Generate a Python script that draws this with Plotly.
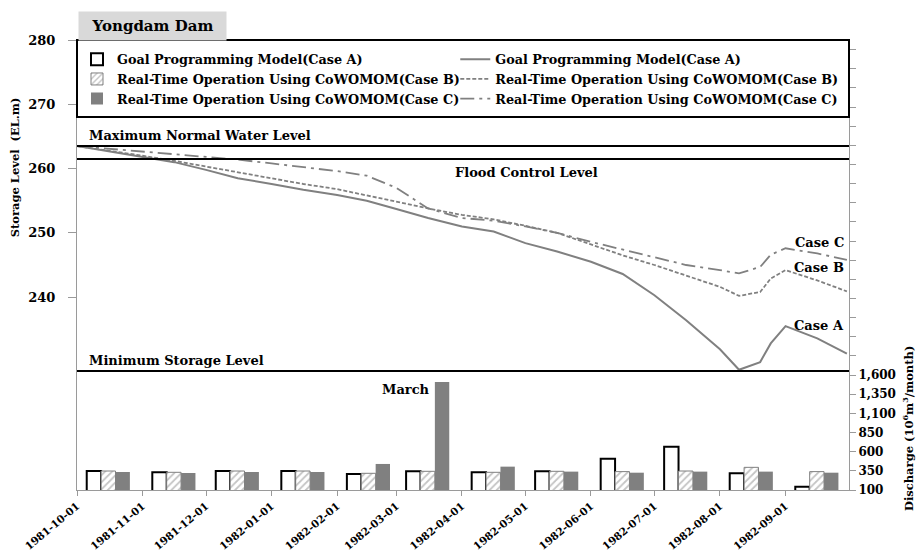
import plotly.graph_objects as go

# Monthly releases (10^6 m^3/month)
months = ["1981-10-01", "1981-11-01", "1981-12-01", "1982-01-01", "1982-02-01", "1982-03-01",
          "1982-04-01", "1982-05-01", "1982-06-01", "1982-07-01", "1982-08-01", "1982-09-01"]
release_a = [348, 331, 348, 348, 309, 344, 331, 344, 508, 665, 318, 143]
release_b = [348, 331, 348, 348, 318, 344, 331, 344, 340, 348, 396, 340]
release_c = [335, 322, 335, 335, 440, 1510, 405, 340, 326, 340, 340, 326]

# Storage level (EL.m)
level_dates = ["1981-10-01", "1981-10-16", "1981-11-01", "1981-11-16", "1981-12-01", "1981-12-16",
               "1982-01-01", "1982-01-16", "1982-02-01", "1982-02-15", "1982-03-01", "1982-03-08",
               "1982-03-16", "1982-04-01", "1982-04-16", "1982-05-01", "1982-05-16", "1982-06-01",
               "1982-06-16", "1982-07-01", "1982-07-16", "1982-08-01", "1982-08-10", "1982-08-20",
               "1982-08-25", "1982-09-01", "1982-09-16", "1982-09-30"]
level_a = [263.5, 262.7, 261.9, 261.0, 259.8, 258.5, 257.6, 256.7, 255.9, 255.0, 253.7, 253.0,
           252.3, 251.0, 250.2, 248.4, 247.1, 245.5, 243.6, 240.3, 236.4, 231.9, 228.7, 229.9,
           232.8, 235.5, 233.6, 231.2]
level_b = [263.5, 262.8, 262.0, 261.2, 260.3, 259.4, 258.4, 257.6, 256.8, 255.8, 254.8, 254.3,
           253.8, 252.8, 252.1, 251.1, 250.0, 248.2, 246.5, 245.0, 243.4, 241.6, 240.2, 240.8,
           242.9, 244.2, 242.6, 240.9]
level_c = [263.5, 263.1, 262.7, 262.2, 261.8, 261.4, 260.8, 260.2, 259.6, 258.9, 257.0, 255.5,
           253.8, 252.3, 251.9, 251.0, 250.0, 248.6, 247.4, 246.1, 245.0, 244.2, 243.7, 244.7,
           246.6, 247.6, 246.8, 245.8]

max_normal_level = 263.5
flood_control_level = 261.5
min_storage_level = 228.5

discharge_ticks = [100, 350, 600, 850, 1100, 1350, 1600]

name_a = "Goal Programming Model(Case A)"
name_b = "Real-Time Operation Using CoWOMOM(Case B)"
name_c = "Real-Time Operation Using CoWOMOM(Case C)"

FONT = "DejaVu Serif"
GRAY = "#808080"
AXIS_GRAY = "#9a9a9a"
DAY = 86400000
BAR_W = 6.8 * DAY

fig = go.Figure()

# bars and lines interleaved so the legend reads bars | lines in two columns
fig.add_trace(go.Bar(x=months, y=release_a, name=name_a, yaxis="y2",
                     width=BAR_W, offset=4.6 * DAY,
                     marker=dict(color="white", line=dict(color="black", width=2))))
fig.add_trace(go.Scatter(x=level_dates, y=level_a, name=name_a, mode="lines",
                         line=dict(color=GRAY, width=2)))
fig.add_trace(go.Bar(x=months, y=release_b, name=name_b, yaxis="y2",
                     width=BAR_W, offset=11.4 * DAY,
                     marker=dict(color="white", line=dict(color=GRAY, width=1),
                                 pattern=dict(shape="/", fgcolor="#8a8a8a", bgcolor="white",
                                              size=5, solidity=0.35))))
fig.add_trace(go.Scatter(x=level_dates, y=level_b, name=name_b, mode="lines",
                         line=dict(color=GRAY, width=1.8, dash="4px,2px")))
fig.add_trace(go.Bar(x=months, y=release_c, name=name_c, yaxis="y2",
                     width=BAR_W, offset=18.2 * DAY,
                     marker=dict(color=GRAY, line=dict(width=0))))
fig.add_trace(go.Scatter(x=level_dates, y=level_c, name=name_c, mode="lines",
                         line=dict(color=GRAY, width=1.8, dash="14px,5px,3px,5px")))

# reference water levels
for lvl in (max_normal_level, flood_control_level, min_storage_level):
    fig.add_shape(type="line", xref="paper", x0=0, x1=1, yref="y", y0=lvl, y1=lvl,
                  line=dict(color="black", width=2))

# legend frame
fig.add_shape(type="rect", xref="paper", yref="paper", x0=0, x1=1, y0=0.8287, y1=1,
              line=dict(color="black", width=2), fillcolor="rgba(0,0,0,0)")

def txt(text, x, y, xanchor="left", yanchor="middle", xref="paper", yref="paper",
        size=13, yshift=0, **kw):
    fig.add_annotation(text=text, x=x, y=y, xref=xref, yref=yref, xanchor=xanchor,
                       yanchor=yanchor, showarrow=False, yshift=yshift,
                       font=dict(family=FONT, size=size, color="black", weight="bold"), **kw)

txt("Yongdam Dam", 0.0013, 1.0655, yanchor="top", size=15, bgcolor="#d9d9d9",
    width=143, height=24, borderpad=2, align="center")
txt("Maximum Normal Water Level", 0.013, max_normal_level, yref="y", yanchor="bottom", yshift=1)
txt("Flood Control Level", 0.487, flood_control_level, yref="y", yanchor="top", yshift=-4)
txt("Minimum Storage Level", 0.013, min_storage_level, yref="y", yanchor="bottom", yshift=1)
txt("Case C", 0.996, 0.549, xanchor="right")
txt("Case B", 0.996, 0.4935, xanchor="right")
txt("Case A", 0.996, 0.3647, xanchor="right")
txt("March", 0.4595, 0.2242, xanchor="right")
txt("Storage Level  (EL.m)", -0.0803, 0.717, xanchor="center", size=11.5, textangle=-90)
txt("Discharge (10<sup>6</sup>m<sup>3</sup>/month)", 1.0764, 0.1376, xanchor="center",
    size=11.5, textangle=-90)

fig.update_layout(
    width=921, height=558,
    margin=dict(l=77, r=72, t=39.5, b=68, autoexpand=False),
    paper_bgcolor="white", plot_bgcolor="white",
    barmode="overlay",
    showlegend=True,
    legend=dict(orientation="h", x=0, y=0.99, xanchor="left", yanchor="top",
                entrywidth=0.49, entrywidthmode="fraction", traceorder="normal",
                bgcolor="rgba(0,0,0,0)", borderwidth=0,
                font=dict(family=FONT, size=12.8, color="black", weight="bold")),
    xaxis=dict(type="date", range=["1981-10-01", "1982-10-01"], tickvals=months,
               tickformat="%Y-%m-%d", tickangle=-40, ticks="outside", ticklen=5,
               tickcolor=AXIS_GRAY, showline=True, linecolor=AXIS_GRAY, linewidth=1,
               showgrid=False, zeroline=False, automargin=False,
               tickfont=dict(family=FONT, size=10.5, color="black", weight="bold")),
    yaxis=dict(range=[210, 280], tickvals=[240, 250, 260, 270, 280], ticks="outside",
               ticklen=8, tickcolor=AXIS_GRAY, showline=True, linecolor=AXIS_GRAY,
               showgrid=False, zeroline=False, automargin=False, ticklabelstandoff=10,
               tickfont=dict(family=FONT, size=13, color="black", weight="bold")),
    yaxis2=dict(range=[100, 5975], overlaying="y", side="right", tickvals=discharge_ticks,
                tickformat=",d", ticks="outside", ticklen=6, tickcolor=AXIS_GRAY,
                showline=True, linecolor=AXIS_GRAY, showgrid=False, zeroline=False,
                automargin=False,
                minor=dict(tickvals=list(range(1850, 5976, 250)), ticks="outside",
                           ticklen=6, tickcolor=AXIS_GRAY),
                tickfont=dict(family=FONT, size=12, color="black", weight="bold")),
)

fig.write_html("out.html")
